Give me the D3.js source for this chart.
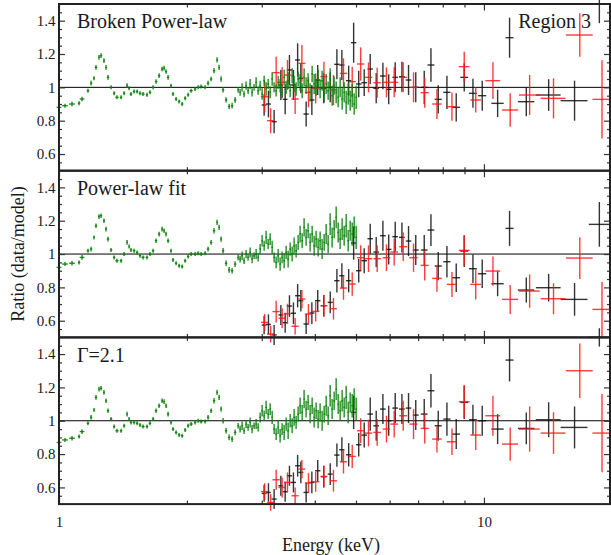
<!DOCTYPE html>
<html>
<head>
<meta charset="utf-8">
<script src="https://cdn.jsdelivr.net/npm/d3@7"></script>
<style>
  body { margin: 0; background: #fff; }
  svg text { font-family: "Liberation Serif", "Times New Roman", "Nimbus Roman", "DejaVu Serif", serif !important; fill: #1a1a1a; }
</style>
</head>
<body>
<div id="chart"></div>
<script>
// ---- Daten ----
const panelTitles = ["Broken Power-law", "Power-law fit", "\u0393=2.1"];
const regionLabel = "Region 3";

const xMajor = [1, 10];
const xMajorLabels = ["1", "10"];
const xMinor = [2, 3, 4, 5, 6, 7, 8, 9];
const yMajor = [0.6, 0.8, 1, 1.2, 1.4];
const yMajorLabels = ["0.6", "0.8", "1", "1.2", "1.4"];
const yMinor = [0.55, 0.65, 0.7, 0.75, 0.85, 0.9, 0.95, 1.05, 1.1, 1.15, 1.25, 1.3, 1.35, 1.45];

// Gruen: niedrige Energien (1-2.64 keV) + dichter Bereich (2.67-5 keV)
const greenE = [
  1.000,1.033,1.073,1.115,1.133,1.170,1.190,1.209,1.222,1.242,
  1.256,1.276,1.290,1.304,1.326,1.348,1.369,1.400,1.423,1.446,
  1.462,1.477,1.502,1.527,1.551,1.577,1.611,1.637,1.665,1.692,
  1.720,1.748,1.767,1.786,1.806,1.835,1.855,1.886,1.917,1.949,
  1.981,2.013,2.046,2.091,2.125,2.160,2.207,2.243,2.280,2.317,
  2.355,2.381,2.407,2.433,2.473,2.514,2.555,2.597,2.640,
  2.668,2.697,2.726,2.756,2.786,2.817,2.847,2.878,2.910,2.942,
  2.974,3.006,3.039,3.072,3.106,3.140,3.174,3.208,3.243,3.279,
  3.314,3.350,3.387,3.424,3.461,3.499,3.537,3.575,3.614,3.654,
  3.693,3.734,3.774,3.815,3.857,3.899,3.942,3.985,4.028,4.072,
  4.116,4.161,4.207,4.253,4.299,4.346,4.393,4.441,4.490,4.539,
  4.588,4.638,4.689,4.740,4.792,4.844,4.897,4.950,5.004
];
const greenErr = [
  0.014,0.012,0.014,0.012,0.014,0.012,0.014,0.012,0.014,0.014,
  0.014,0.014,0.014,0.014,0.012,0.012,0.012,0.012,0.012,0.014,
  0.012,0.012,0.012,0.012,0.012,0.012,0.012,0.012,0.012,0.014,
  0.014,0.014,0.014,0.014,0.014,0.012,0.012,0.012,0.012,0.012,
  0.012,0.012,0.012,0.012,0.012,0.012,0.012,0.014,0.014,0.016,
  0.016,0.016,0.016,0.016,0.016,0.017,0.017,0.017,0.017,
  0.02,0.025,0.02,0.025,0.02,0.03,0.025,0.02,0.03,0.025,
  0.03,0.035,0.03,0.04,0.03,0.035,0.04,0.03,0.035,0.04,
  0.04,0.035,0.045,0.04,0.05,0.04,0.045,0.05,0.04,0.045,
  0.05,0.045,0.055,0.05,0.045,0.055,0.05,0.06,0.05,0.055,
  0.055,0.06,0.05,0.06,0.055,0.065,0.06,0.055,0.065,0.06,
  0.06,0.065,0.06,0.07,0.065,0.06,0.07,0.065,0.07
];
const greenTop = [
  0.88,0.89,0.90,0.905,0.93,0.98,1.025,1.055,1.12,1.18,
  1.19,1.16,1.12,1.06,1.0,0.965,0.94,0.94,0.965,1.01,
  0.995,0.96,0.975,0.975,0.965,0.96,0.955,0.97,1.0,1.035,
  1.07,1.11,1.115,1.095,1.06,1.01,0.96,0.93,0.915,0.90,
  0.935,0.955,0.98,0.99,1.0,1.005,1.0,1.025,1.05,1.1,
  1.165,1.12,1.05,0.985,0.925,0.885,0.89,0.925,0.985,
  0.97,1.00,0.96,1.01,0.98,1.02,0.97,1.00,1.03,0.98,
  1.01,0.96,1.04,0.99,1.02,0.97,1.05,1.00,0.98,1.03,
  1.01,0.97,1.06,1.00,1.04,0.98,1.07,1.02,0.99,1.05,
  1.03,0.98,1.06,1.01,1.04,0.97,1.08,1.02,1.00,1.05,
  0.99,1.04,0.96,1.02,0.98,1.05,0.95,1.01,0.97,0.94,
  1.00,0.93,0.97,0.91,0.96,0.92,0.95,0.90,0.94
];
const greenMid = [
  0.92,0.94,0.945,0.95,0.98,1.02,1.03,1.10,1.17,1.225,
  1.23,1.2,1.15,1.09,1.025,0.98,0.96,0.96,1.0,1.07,
  1.045,1.025,1.02,1.01,0.99,0.98,0.98,1.0,1.02,1.08,
  1.12,1.15,1.14,1.12,1.08,1.02,0.965,0.945,0.93,0.925,
  0.96,0.985,1.0,1.0,1.005,1.0,1.005,1.03,1.07,1.14,
  1.19,1.16,1.09,1.02,0.945,0.905,0.9,0.94,0.98,
  0.97,0.99,0.96,1.00,0.98,1.01,0.97,0.99,1.00,0.98,
  1.03,1.08,1.05,1.10,1.06,1.09,1.04,0.98,0.95,0.99,
  0.94,0.98,0.96,1.01,0.97,1.03,1.00,1.05,1.02,1.07,
  1.12,1.08,1.16,1.10,1.14,1.07,1.12,1.05,1.09,1.04,
  1.08,1.03,1.07,1.12,1.06,1.18,1.10,1.15,1.22,1.13,
  1.09,1.15,1.11,1.17,1.08,1.14,1.12,1.16,1.10
];
const greenBot = [
  0.87,0.885,0.895,0.905,0.935,0.985,1.02,1.065,1.14,1.19,
  1.195,1.17,1.12,1.06,1.01,0.965,0.94,0.94,0.97,1.04,
  1.01,0.99,0.99,0.985,0.975,0.965,0.965,0.985,1.01,1.06,
  1.09,1.12,1.115,1.09,1.04,0.99,0.95,0.93,0.915,0.91,
  0.945,0.97,0.98,0.99,1.0,0.995,0.995,1.02,1.06,1.12,
  1.17,1.14,1.07,1.0,0.94,0.9,0.89,0.93,0.97,
  0.95,0.97,0.94,0.98,0.96,0.99,0.95,0.97,0.98,0.96,
  1.02,1.06,1.03,1.08,1.04,1.07,1.02,0.95,0.92,0.96,
  0.91,0.95,0.93,0.98,0.94,1.00,0.97,1.02,0.99,1.04,
  1.09,1.05,1.13,1.07,1.11,1.04,1.09,1.02,1.06,1.01,
  1.05,1.00,1.04,1.09,1.03,1.15,1.07,1.12,1.19,1.10,
  1.06,1.12,1.08,1.14,1.05,1.11,1.09,1.13,1.07
];

// Schwarz (FPMA)
const blackE = [3.039,3.111,3.208,3.327,3.406,3.486,3.562,3.644,3.708,3.816,3.936,4.063,4.197,4.348,
  4.508,4.631,4.805,4.936,5.074,5.227,5.400,5.578,5.784,5.969,6.183,6.412,6.646,6.911,7.236,7.504,
  7.807,8.183,8.606,8.987,9.422,9.908,10.77,11.49,12.58,14.20,16.34,18.69];
const blackHW = [0.04,0.04,0.045,0.045,0.045,0.05,0.05,0.05,0.05,
  0.055,0.055,0.06,0.06,0.06,0.065,0.065,0.07,0.07,
  0.075,0.08,0.08,0.085,0.09,0.09,0.095,0.1,0.1,0.11,
  0.13,0.14,0.15,0.16,0.18,0.19,0.2,0.22,
  0.36,0.25,0.56,0.95,1.19,1.04];
const blackTop = [0.894,0.90,0.794,1.014,0.928,1.104,1.014,1.164,1.054,0.84,0.924,1.044,0.994,1.0,
  1.138,1.134,1.04,1.268,1.02,1.028,1.11,0.994,1.068,0.988,1.06,1.064,1.044,1.0,1.0,1.134,
  0.928,0.97,0.88,1.06,0.964,0.95,0.904,1.298,0.914,0.954,0.92,1.50];
const blackTopErr = [0.065,0.08,0.07,0.09,0.09,0.09,0.09,0.10,0.09,0.075,0.09,0.09,0.09,0.09,
  0.09,0.09,0.09,0.12,0.08,0.08,0.09,0.09,0.08,0.09,0.09,0.09,0.09,0.09,0.10,0.10,
  0.085,0.10,0.085,0.085,0.087,0.09,0.082,0.12,0.087,0.095,0.12,0.115];
const blackMid = [0.574,0.578,0.515,0.635,0.588,0.688,0.645,0.75,0.72,0.58,0.646,0.72,0.69,0.71,
  0.84,0.87,0.84,1.066,0.90,0.96,1.092,1.012,1.11,1.028,1.104,1.10,1.078,1.024,1.024,1.144,
  0.928,0.954,0.858,1.018,0.912,0.882,0.822,1.154,0.784,0.798,0.728,1.178];
const blackMidErr = [0.055,0.06,0.06,0.06,0.06,0.065,0.065,0.07,0.065,0.06,0.065,0.065,0.065,0.065,
  0.07,0.075,0.07,0.10,0.07,0.075,0.09,0.09,0.09,0.09,0.09,0.09,0.09,0.09,0.09,0.095,
  0.085,0.095,0.085,0.095,0.085,0.085,0.075,0.105,0.075,0.083,0.098,0.134];
const blackBot = [0.564,0.57,0.53,0.61,0.574,0.67,0.63,0.73,0.69,0.57,0.63,0.70,0.664,0.68,
  0.794,0.826,0.796,1.05,0.856,0.914,1.04,0.97,1.07,1.0,1.076,1.07,1.076,1.034,1.04,1.18,
  0.97,1.01,0.92,1.11,1.006,1.0,0.95,1.364,0.954,1.006,0.96,1.50];
const blackBotErr = [0.05,0.055,0.06,0.06,0.06,0.06,0.06,0.065,0.065,0.06,0.065,0.065,0.065,0.065,
  0.07,0.075,0.07,0.10,0.07,0.075,0.10,0.09,0.09,0.09,0.09,0.09,0.09,0.09,0.09,0.10,
  0.09,0.10,0.09,0.10,0.09,0.09,0.09,0.128,0.095,0.105,0.126,0.055];

// Rot (FPMB)
const redE = [3.047,3.148,3.244,3.351,3.449,3.595,3.729,3.864,4.018,4.202,4.425,4.672,4.898,5.128,
  5.350,5.608,5.897,6.149,6.457,6.829,7.255,7.753,8.409,8.987,9.565,10.50,11.53,12.81,14.58,16.81,18.96];
const redHW = [0.06,0.06,0.065,0.065,0.065,0.07,0.07,
  0.075,0.08,0.08,0.085,0.09,0.095,
  0.1,0.11,0.115,0.12,0.13,0.14,0.15,0.16,
  0.2,0.23,0.26,0.28,
  0.42,0.5,0.72,0.98,1.22,0.95];
const redTop = [0.944,0.80,1.088,1.03,1.074,0.93,1.144,0.97,0.994,1.064,0.984,1.084,1.034,1.14,
  1.06,1.028,1.03,1.03,1.06,1.0,0.968,0.90,0.884,1.124,0.924,1.04,0.864,0.954,0.934,1.314,0.928];
const redTopErr = [0.095,0.075,0.095,0.09,0.09,0.09,0.11,0.09,0.09,0.09,0.09,0.09,0.09,0.10,
  0.09,0.09,0.09,0.09,0.09,0.09,0.09,0.09,0.085,0.09,0.075,0.11,0.10,0.12,0.12,0.13,0.235];
const redMid = [0.59,0.52,0.655,0.615,0.642,0.567,0.73,0.64,0.656,0.69,0.672,0.796,0.82,0.978,
  0.972,0.972,0.978,1.012,1.044,0.978,0.932,0.854,0.818,1.022,0.818,0.898,0.728,0.778,0.732,0.976,0.668];
const redMidErr = [0.05,0.05,0.065,0.06,0.06,0.05,0.055,0.06,0.06,0.065,0.065,0.07,0.07,0.075,
  0.08,0.08,0.08,0.08,0.085,0.085,0.09,0.08,0.075,0.09,0.09,0.088,0.087,0.10,0.093,0.125,0.165];
const redBot = [0.575,0.51,0.646,0.60,0.63,0.55,0.71,0.626,0.634,0.666,0.64,0.754,0.786,0.94,
  0.926,0.93,0.95,0.98,1.03,0.98,0.954,0.89,0.874,1.114,0.914,1.03,0.86,0.95,0.926,1.30,0.926];
const redBotErr = [0.05,0.05,0.06,0.06,0.06,0.05,0.055,0.06,0.06,0.065,0.065,0.07,0.07,0.075,
  0.08,0.08,0.08,0.08,0.09,0.09,0.09,0.08,0.08,0.10,0.09,0.12,0.10,0.135,0.125,0.163,0.235];

// ---- Layout ----
const W = 611, H = 555;
const X0 = 59, X1 = 610, TOP = 4, PH = 166.7;
const FONT = "'Liberation Serif', 'Times New Roman', 'Nimbus Roman', 'DejaVu Serif', serif";
const cGreen = "#0b7f0b", cRed = "#ff1a1a", cBlack = "#111";

const panels = [
  { title: panelTitles[0], green: greenTop, bk: blackTop, bkErr: blackTopErr, rd: redTop, rdErr: redTopErr },
  { title: panelTitles[1], green: greenMid, bk: blackMid, bkErr: blackMidErr, rd: redMid, rdErr: redMidErr },
  { title: panelTitles[2], green: greenBot, bk: blackBot, bkErr: blackBotErr, rd: redBot, rdErr: redBotErr }
];

const x = d3.scaleLog().domain([1, 19.8]).range([X0, X1]);
const svg = d3.select("#chart").append("svg").attr("width", W).attr("height", H)
  .attr("font-family", FONT);

// Fehlerkreuze: vertikal = Fehler, horizontal = Binbreite
function crosses(g, y, E, lo, hi, R, err, color, sw, op) {
  const idx = d3.range(E.length);
  const grp = g.append("g").attr("stroke", color).attr("stroke-width", sw).attr("stroke-opacity", op);
  grp.selectAll("line.v").data(idx).join("line").attr("class", "v")
    .attr("x1", i => x(E[i])).attr("x2", i => x(E[i]))
    .attr("y1", i => y(R[i] - err[i])).attr("y2", i => y(R[i] + err[i]));
  grp.selectAll("line.h").data(idx).join("line").attr("class", "h")
    .attr("x1", i => x(lo(i))).attr("x2", i => x(hi(i)))
    .attr("y1", i => y(R[i])).attr("y2", i => y(R[i]));
}

// Gruen: halbe Breite aus Abstand der Nachbarn (log)
const gStep = i => {
  const j = i < greenE.length - 1 ? i + 1 : i - 1;
  return Math.abs(Math.log10(greenE[j] / greenE[i]));
};
const gLo = i => greenE[i] * Math.pow(10, -0.4 * gStep(i));
const gHi = i => greenE[i] * Math.pow(10, 0.4 * gStep(i));

panels.forEach((p, k) => {
  const top = TOP + k * PH, bot = top + PH;
  const y = d3.scaleLinear().domain([0.5, 1.5]).range([bot, top]);
  const g = svg.append("g");

  // Ratio = 1
  g.append("line").attr("x1", X0).attr("x2", X1).attr("y1", y(1)).attr("y2", y(1))
    .attr("stroke", "#000").attr("stroke-width", 1);

  crosses(g, y, blackE, i => blackE[i] - blackHW[i], i => blackE[i] + blackHW[i], p.bk, p.bkErr, cBlack, 1.4, 0.85);
  crosses(g, y, redE, i => redE[i] - redHW[i], i => redE[i] + redHW[i], p.rd, p.rdErr, cRed, 1.4, 0.85);
  crosses(g, y, greenE, gLo, gHi, p.green, greenErr, cGreen, 1.4, 0.9);

  // Achsen (Ticks nach innen)
  const tickStyle = sel => {
    sel.attr("font-family", FONT).attr("font-size", 15);
    sel.select(".domain").remove();
    sel.selectAll(".tick line").attr("stroke", "#333").attr("stroke-width", 1.2);
    sel.selectAll(".tick text").attr("fill", "#1a1a1a");
  };
  g.append("g").attr("transform", `translate(0,${bot})`)
    .call(d3.axisBottom(x).tickValues(xMajor).tickSize(-6.5).tickPadding(12)
      .tickFormat((d, i) => k === 2 ? xMajorLabels[i] : ""))
    .call(tickStyle);
  g.append("g").attr("transform", `translate(0,${bot})`)
    .call(d3.axisBottom(x).tickValues(xMinor).tickSize(-3.5).tickFormat("")).call(tickStyle);
  g.append("g").attr("transform", `translate(0,${top})`)
    .call(d3.axisTop(x).tickValues(xMajor).tickSize(-6.5).tickFormat("")).call(tickStyle);
  g.append("g").attr("transform", `translate(0,${top})`)
    .call(d3.axisTop(x).tickValues(xMinor).tickSize(-3.5).tickFormat("")).call(tickStyle);

  g.append("g").attr("transform", `translate(${X0},0)`)
    .call(d3.axisLeft(y).tickValues(yMajor).tickSize(-6).tickPadding(3.5)
      .tickFormat((d, i) => yMajorLabels[i]))
    .call(tickStyle);
  g.append("g").attr("transform", `translate(${X0},0)`)
    .call(d3.axisLeft(y).tickValues(yMinor).tickSize(-3).tickFormat("")).call(tickStyle);
  g.append("g").attr("transform", `translate(${X1},0)`)
    .call(d3.axisRight(y).tickValues(yMajor).tickSize(-6).tickFormat("")).call(tickStyle);
  g.append("g").attr("transform", `translate(${X1},0)`)
    .call(d3.axisRight(y).tickValues(yMinor).tickSize(-3).tickFormat("")).call(tickStyle);

  // Rahmen
  g.append("rect").attr("x", X0).attr("y", top).attr("width", X1 - X0).attr("height", PH)
    .attr("fill", "none").attr("stroke", "#222").attr("stroke-width", 2);

  g.append("text").attr("x", 77).attr("y", top + 24.3).attr("font-size", 20).text(p.title);
  if (k === 0)
    g.append("text").attr("x", 591).attr("y", top + 24.3).attr("text-anchor", "end")
      .attr("font-size", 20).text(regionLabel);
});

svg.append("text").attr("x", 331).attr("y", 551).attr("text-anchor", "middle")
  .attr("font-size", 18).text("Energy (keV)");
svg.append("text").attr("transform", `translate(24,${TOP + 1.5 * PH}) rotate(-90)`)
  .attr("text-anchor", "middle").attr("font-size", 18).text("Ratio (data/model)");
</script>
</body>
</html>
